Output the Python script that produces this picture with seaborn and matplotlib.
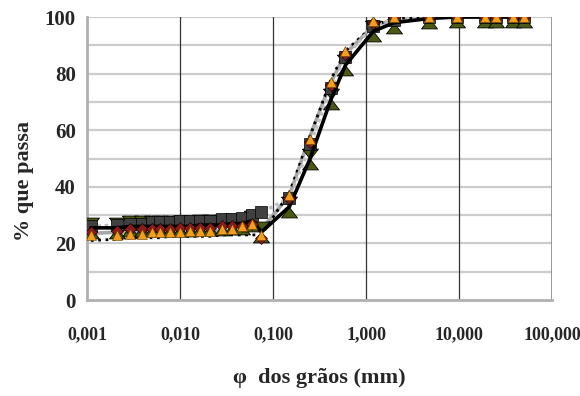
import numpy as np
import pandas as pd
import seaborn as sns
import matplotlib.pyplot as plt
from matplotlib.path import Path
from matplotlib.ticker import FixedLocator, FuncFormatter

# diametros (mm): sedimentacao + peneiramento
hyd_x = [0.0011, 0.0021, 0.0029, 0.0039, 0.005, 0.0061, 0.0078, 0.01, 0.0128,
         0.0164, 0.021, 0.028, 0.036, 0.046, 0.060]
sieve_x = [0.075, 0.15, 0.25, 0.42, 0.6, 1.2, 2.0, 4.8, 9.5, 19, 25, 38, 50]
diam = hyd_x + sieve_x

# % que passa
am1 = [25.5, 25.5, 26, 26, 26, 26, 26, 26, 26, 26.5, 26.5, 26.5, 27, 27, 28,
       24, 33, 50, 71, 83, 95, 98, 99.5, 100, 100, 100, 100, 100]
am2 = [26, 26.5, 27, 27, 27.5, 27.5, 27.5, 28, 28, 28, 28, 28.5, 28.5, 29, 30,
       31, 36, 55, 75, 86, 97, 99, 100, 100, 100, 100, 100, 100]
am3 = [24, 24.5, 25, 25, 25, 25, 25, 25.5, 25.5, 25.5, 25.5, 26, 26, 26, 27,
       22, 36, 56, 76, 87, 98, 100, 100, 100, 100, 100, 100, 100]
am4 = [23, 23, 23.5, 23.5, 24, 24, 24, 24, 24.5, 24.5, 24.5, 25, 25, 26, 27,
       23, 37, 57, 77, 88, 98.5, 100, 100, 100, 100, 100, 100, 100]
am5 = [21, 21.5, 22, 22, 22, 22, 22.5, 22.5, 22.5, 22.5, 22.5, 23, 23, 23, 23,
       23, 38, 58, 78, 88, 97, 99.5, 100, 100, 100, 100, 100, 100]
am6 = [23.5, 24, 24, 24, 24, 24, 24, 24, 24, 24.5, 24.5, 24.5, 24.5, 25, 27,
       25, 37, 58, 77, 87, 97, 99, 100, 100, 100, 100, 100, 100]

xticks = [0.001, 0.01, 0.1, 1, 10, 100]
yticks = [0, 20, 40, 60, 80, 100]

df = pd.DataFrame({"d": diam, "a1": am1, "a2": am2, "a3": am3,
                   "a4": am4, "a5": am5, "a6": am6})

sns.set_style("white")
plt.rcParams["font.family"] = ["Liberation Serif", "DejaVu Serif"]

fig = plt.figure(figsize=(5.8, 3.96), dpi=100)
ax = fig.add_axes([0.15, 0.2424, 0.802, 0.7146])

hourglass = Path([(-1, 1.3), (1, 1.3), (0, 0), (1, -1.3), (-1, -1.3), (0, 0), (-1, 1.3)])

# linhas
sns.lineplot(data=df, x="d", y="a6", ax=ax, color="#a6a6a6", lw=2.6, zorder=3)
sns.lineplot(data=df, x="d", y="a5", ax=ax, color="black", lw=2, ls=":", zorder=3)
sns.lineplot(data=df, x="d", y="a2", ax=ax, color="#bfbfbf", lw=2.5,
             ls=(0, (1, 1)), zorder=4)
# marcadores
sns.lineplot(data=df, x="d", y="a1", ax=ax, lw=0,
             marker=hourglass, ms=15, mfc="#4b5a12", mec="black", mew=0.6, zorder=5)
sns.lineplot(data=df, x="d", y="a2", ax=ax, lw=0, marker="s", ms=8,
             mfc="#404040", mec="black", mew=0.5, zorder=6)
sns.lineplot(data=df, x="d", y="a3", ax=ax, lw=0, marker="D", ms=6,
             mfc="#8b1a1a", mec="black", mew=0.4, zorder=7)
sns.lineplot(data=df, x="d", y="a4", ax=ax, lw=0, marker="^", ms=7,
             mfc="#f59d1c", mec="#604000", mew=0.4, zorder=8)
sns.lineplot(data=df, x="d", y="a1", ax=ax, color="black", lw=2.6, zorder=6)

ax.set_xscale("log")
ax.set_xlim(0.001, 100)
ax.set_ylim(0, 100)
ax.xaxis.set_major_locator(FixedLocator(xticks))
ax.xaxis.set_minor_locator(FixedLocator([]))
ax.yaxis.set_major_locator(FixedLocator(yticks))
ax.yaxis.set_minor_locator(FixedLocator([10, 30, 50, 70, 90]))
ax.xaxis.set_major_formatter(FuncFormatter(lambda v, p: f"{v:,.3f}".replace(",", " ").replace(".", ",").replace(" ", ".")))

ax.grid(False)
for yv in range(10, 101, 10):
    ax.axhline(yv, color="#cccccc", lw=1.6, zorder=0)
for xv in xticks[1:-1]:
    ax.axvline(xv, color="#333333", lw=0.9, zorder=0)
ax.axvline(100, color="#888888", lw=1.2, zorder=0)

for s in ["top", "right"]:
    ax.spines[s].set_visible(False)
for s in ["left", "bottom"]:
    ax.spines[s].set_color("#b0b0b0")
    ax.spines[s].set_linewidth(2)

ax.tick_params(axis="both", which="major", length=5, width=1, color="#999999")
ax.tick_params(axis="y", pad=3, labelsize=15)
ax.tick_params(axis="x", pad=14, labelsize=13)
for lab in ax.get_xticklabels() + ax.get_yticklabels():
    lab.set_fontweight("bold")

ax.set_xlabel("φ  dos grãos (mm)", fontsize=16, fontweight="bold", labelpad=18)
ax.set_ylabel("% que passa", fontsize=16, fontweight="bold")
ax.yaxis.set_label_coords(-0.115, 0.42)

fig.savefig("out.png", dpi=100)
